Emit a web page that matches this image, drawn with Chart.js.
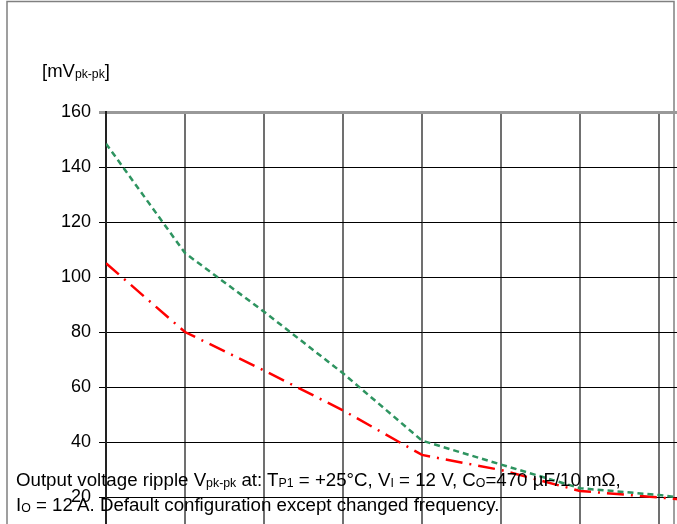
<!DOCTYPE html>
<html>
<head>
<meta charset="utf-8">
<script src="https://cdn.jsdelivr.net/npm/chart.js@4/dist/chart.umd.min.js"></script>
<style>
  html, body { margin: 0; padding: 0; overflow: hidden; background: #fff; }
  #wrap { position: relative; width: 677px; height: 524px; overflow: hidden; }
  #box { position: absolute; left: 0; top: 0; width: 760px; height: 580px; }
  .txt { position: absolute; font-family: "Liberation Sans", Arial, sans-serif; color: #000; white-space: nowrap; }
  .txt sub { font-size: 66%; vertical-align: -0.1em; }
  #unit { left: 42px; top: 60px; font-size: 18.5px; }
  #note { left: 16px; top: 469px; font-size: 18.7px; line-height: 21px; }
</style>
</head>
<body>
<div id="wrap">
  <div id="box"><canvas id="rippleChart"></canvas></div>
  <div class="txt" id="unit">[mV<sub>pk-pk</sub>]</div>
  <div class="txt" id="note">Output voltage ripple V<sub>pk-pk</sub> at: T<sub>P1</sub> = +25°C, V<sub>I</sub> = 12 V, C<sub>O</sub>=470 µF/10 mΩ,<br>I<sub>O</sub> = 12 A. Default configuration except changed frequency.</div>
</div>
<script>
// x positions (grid steps) and ripple values
const steps = [0, 1, 2, 3, 4, 5, 6, 7, 8];
const rippleGreen = [148.5, 108.7, 87.4, 65, 40.5, 31.8, 23.2, 20.7, 17.5];
const rippleRed = [105, 80, 66, 51.5, 35.3, 29.8, 22.2, 19.8, 17.5];
const yTicks = [0, 20, 40, 60, 80, 100, 120, 140, 160];

const toPoints = (vals) => vals.map((v, i) => ({ x: steps[i], y: v }));

// frame around the whole figure
const framePlugin = {
  id: "frame",
  beforeDraw(chart) {
    const c = chart.ctx;
    c.save();
    c.strokeStyle = "#808080";
    c.lineWidth = 1.5;
    c.strokeRect(7, 1.5, 667, 600);
    c.restore();
  },
};

new Chart(document.getElementById("rippleChart"), {
  type: "line",
  data: {
    datasets: [
      {
        label: "green",
        data: toPoints(rippleGreen),
        borderColor: "#2E9460",
        borderWidth: 2.5,
        borderDash: [6, 4],
        pointRadius: 0,
        tension: 0,
      },
      {
        label: "red",
        data: toPoints(rippleRed),
        borderColor: "#FF0000",
        borderWidth: 2.5,
        borderDash: [17, 7, 2, 7],
        pointRadius: 0,
        tension: 0,
      },
    ],
  },
  options: {
    responsive: true,
    maintainAspectRatio: false,
    animation: false,
    layout: { padding: { left: 0, top: 112, right: 22, bottom: 0 } },
    plugins: {
      legend: { display: false },
      tooltip: { enabled: false },
    },
    scales: {
      x: {
        type: "linear",
        min: 0,
        max: 8,
        ticks: { stepSize: 1, display: false },
        grid: { color: "#707070", lineWidth: 2, drawTicks: false },
        border: { display: false },
        afterFit: (s) => { s.height = 28; },
      },
      y: {
        min: 0,
        max: 160,
        afterBuildTicks: (s) => { s.ticks = yTicks.map((v) => ({ value: v })); },
        ticks: {
          color: "#000",
          padding: 8,
          font: { family: "'Liberation Sans', Arial, sans-serif", size: 18 },
        },
        grid: {
          color: (ctx) => (ctx.tick && ctx.tick.value === 160 ? "#999" : "#000"),
          lineWidth: (ctx) => (ctx.tick && ctx.tick.value === 160 ? 3 : 1),
          tickLength: 7,
        },
        border: { color: "#222", width: 2 },
        afterFit: (s) => { s.width = 106; },
      },
    },
  },
  plugins: [framePlugin],
});
</script>
</body>
</html>
